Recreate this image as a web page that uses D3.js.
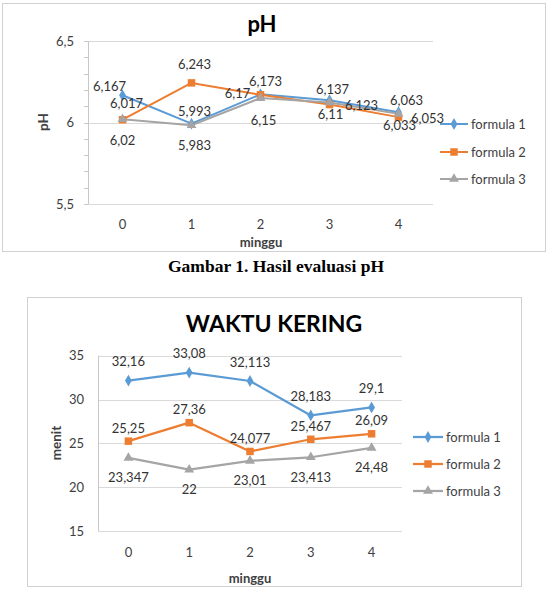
<!DOCTYPE html>
<html>
<head>
<meta charset="utf-8">
<script src="https://cdn.jsdelivr.net/npm/d3@7"></script>
<style>
  html, body { margin: 0; padding: 0; background: #fff; }
  svg { display: block; }
</style>
</head>
<body>
<svg id="chart" width="548" height="590"></svg>
<script>
// ---------- data ----------
const weeks = ["0", "1", "2", "3", "4"];
const seriesNames = ["formula 1", "formula 2", "formula 3"];

const phFormula1 = [6.167, 5.993, 6.173, 6.137, 6.063];
const phFormula2 = [6.017, 6.243, 6.17, 6.11, 6.033];
const phFormula3 = [6.02, 5.983, 6.15, 6.123, 6.053];
const phTicks = [5.5, 6, 6.5];

const wkFormula1 = [32.16, 33.08, 32.113, 28.183, 29.1];
const wkFormula2 = [25.25, 27.36, 24.077, 25.467, 26.09];
const wkFormula3 = [23.347, 22, 23.01, 23.413, 24.48];
const wkTicks = [15, 20, 25, 30, 35];

const captionText = "Gambar 1. Hasil evaluasi pH";

// ---------- styling / layout ----------
const SANS = "Lato, 'Open Sans', sans-serif";
const SERIF = "'Liberation Serif', 'Times New Roman', serif";
const colors = ["#5B9BD5", "#ED7D31", "#A5A5A5"];
const markers = [d3.symbolDiamond, d3.symbolSquare, d3.symbolTriangle];
const markerSizes = [40, 56, 42];
const fmt = v => String(v).replace(".", ",");

// label offsets (dx, dy of label centre relative to the point)
const phLabelOffsets = [
  [[-13, -9], [3, -12], [5, -13], [3, -11], [8, -12]],
  [[4, -16], [3, -18], [-23, -1], [1, 10], [1, 8]],
  [[0, 21], [3, 20], [3, 22], [32, 3], [29, 5]]
];
const wkLabelOffsets = [
  [[0, -19], [0, -19], [0, -19], [0, -19], [0, -19]],
  [[0, -13], [0, -13], [0, -13], [0, -13], [0, -13]],
  [[0, 20], [0, 20], [0, 20], [0, 20], [0, 20]]
];

const svg = d3.select("#chart");
svg.append("rect").attr("width", 548).attr("height", 590).attr("fill", "#fff");

function drawChart(cfg) {
  const g = svg.append("g").style("font-family", SANS);
  // border
  g.append("rect")
    .attr("x", cfg.box[0] + 0.5).attr("y", cfg.box[1] + 0.5)
    .attr("width", cfg.box[2]).attr("height", cfg.box[3])
    .attr("fill", "#fff").attr("stroke", "#D0D0D0").attr("stroke-width", 1);

  const x = d3.scaleBand().domain(weeks).range([cfg.plot.x0, cfg.plot.x1]);
  const y = d3.scaleLinear().domain(cfg.domain).range([cfg.plot.y1, cfg.plot.y0]);

  // gridlines
  g.append("g").selectAll("line").data(cfg.ticks).join("line")
    .attr("x1", cfg.plot.x0).attr("x2", cfg.plot.x1)
    .attr("y1", d => Math.round(y(d)) + 0.5).attr("y2", d => Math.round(y(d)) + 0.5)
    .attr("stroke", "#D9D9D9").attr("stroke-width", 1);

  // vertical axis line
  g.append("line")
    .attr("x1", cfg.plot.x0 + 0.5).attr("x2", cfg.plot.x0 + 0.5)
    .attr("y1", y(cfg.domain[1])).attr("y2", y(cfg.domain[0]))
    .attr("stroke", "#C8C8C8");

  // minor ticks
  if (cfg.minorTicks) {
    g.append("g").selectAll("line").data(cfg.minorTicks).join("line")
      .attr("x1", cfg.plot.x0 - 4).attr("x2", cfg.plot.x0)
      .attr("y1", d => Math.round(y(d)) + 0.5).attr("y2", d => Math.round(y(d)) + 0.5)
      .attr("stroke", "#C8C8C8");
  }

  // y axis labels
  const ya = g.append("g")
    .attr("transform", `translate(${cfg.yLabelX},0)`)
    .call(d3.axisLeft(y).tickValues(cfg.ticks).tickSize(0).tickPadding(0).tickFormat(fmt));
  ya.attr("font-family", SANS);
  ya.select(".domain").remove();
  ya.selectAll("text").attr("font-size", 13).attr("fill", "#404040");

  // x axis labels
  const xa = g.append("g")
    .attr("transform", `translate(0,${cfg.xLabelY})`)
    .call(d3.axisBottom(x).tickSize(0).tickPadding(0));
  xa.attr("font-family", SANS);
  xa.select(".domain").remove();
  xa.selectAll("text").attr("font-size", 13).attr("fill", "#404040").attr("dy", "0.35em");

  // titles
  g.append("text").attr("x", cfg.titlePos[0]).attr("y", cfg.titlePos[1])
    .attr("text-anchor", "middle").attr("font-size", cfg.titleSize)
    .attr("font-weight", "bold").attr("fill", "#000").text(cfg.title);
  g.append("text").attr("transform", `translate(${cfg.yTitlePos[0]},${cfg.yTitlePos[1]}) rotate(-90)`)
    .attr("text-anchor", "middle").attr("dy", "0.35em").attr("font-size", 13.5)
    .attr("font-weight", "bold").attr("fill", "#404040").text(cfg.yTitle);
  g.append("text").attr("x", cfg.xTitlePos[0]).attr("y", cfg.xTitlePos[1])
    .attr("text-anchor", "middle").attr("dy", "0.35em").attr("font-size", 13)
    .attr("font-weight", "bold").attr("fill", "#404040").text("minggu");

  const cx = d => x(d) + x.bandwidth() / 2;

  // lines + markers
  cfg.series.forEach((vals, i) => {
    const line = d3.line().x((d, j) => cx(weeks[j])).y(d => y(d));
    g.append("path").datum(vals).attr("d", line)
      .attr("fill", "none").attr("stroke", colors[i]).attr("stroke-width", cfg.lineWidth)
      .attr("stroke-linejoin", "round");
  });
  cfg.series.forEach((vals, i) => {
    g.append("g").selectAll("path").data(vals).join("path")
      .attr("transform", (d, j) => `translate(${cx(weeks[j])},${y(d)})`)
      .attr("d", d3.symbol().type(markers[i]).size(markerSizes[i]))
      .attr("fill", colors[i]);
  });
  // data labels
  cfg.series.forEach((vals, i) => {
    g.append("g").selectAll("text").data(vals).join("text")
      .attr("x", (d, j) => cx(weeks[j]) + cfg.offsets[i][j][0])
      .attr("y", (d, j) => y(d) + cfg.offsets[i][j][1])
      .attr("dy", "0.35em").attr("text-anchor", "middle")
      .attr("font-size", 13).attr("fill", "#333")
      .text(d => fmt(d));
  });

  // legend
  seriesNames.forEach((name, i) => {
    const ly = cfg.legend.ys[i];
    const lg = g.append("g");
    lg.append("line").attr("x1", cfg.legend.x0).attr("x2", cfg.legend.x1)
      .attr("y1", ly).attr("y2", ly).attr("stroke", colors[i]).attr("stroke-width", cfg.lineWidth);
    lg.append("path").attr("transform", `translate(${(cfg.legend.x0 + cfg.legend.x1) / 2},${ly})`)
      .attr("d", d3.symbol().type(markers[i]).size(markerSizes[i])).attr("fill", colors[i]);
    lg.append("text").attr("x", cfg.legend.x1 + 3).attr("y", ly).attr("dy", "0.35em")
      .attr("font-size", 13).attr("fill", "#404040").text(name);
  });
}

drawChart({
  box: [2, 3, 543, 248],
  plot: { x0: 88, x1: 433, y0: 41, y1: 204 },
  domain: [5.5, 6.5],
  ticks: phTicks,
  minorTicks: d3.range(0, 11).map(k => +(5.5 + k * 0.1).toFixed(1)),
  series: [phFormula1, phFormula2, phFormula3],
  offsets: phLabelOffsets,
  title: "pH", titlePos: [262, 32], titleSize: 22,
  yTitle: "pH", yTitlePos: [43, 122],
  xTitlePos: [261, 242],
  yLabelX: 74, xLabelY: 224,
  lineWidth: 2,
  legend: { x0: 440, x1: 468, ys: [124, 152, 179] }
});

drawChart({
  box: [27, 297, 494, 289],
  plot: { x0: 98, x1: 402, y0: 355.7, y1: 531 },
  domain: [15, 35],
  ticks: wkTicks,
  minorTicks: null,
  series: [wkFormula1, wkFormula2, wkFormula3],
  offsets: wkLabelOffsets,
  title: "WAKTU KERING", titlePos: [274, 332], titleSize: 23,
  yTitle: "menit", yTitlePos: [56, 443],
  xTitlePos: [250, 578],
  yLabelX: 84, xLabelY: 552,
  lineWidth: 2.25,
  legend: { x0: 413, x1: 443, ys: [437, 464, 491] }
});

// caption
svg.append("text").attr("x", 276).attr("y", 266).attr("dy", "0.35em")
  .attr("text-anchor", "middle").style("font-family", SERIF)
  .attr("font-weight", "bold").attr("font-size", 17.5).attr("fill", "#000")
  .text(captionText);
</script>
</body>
</html>
